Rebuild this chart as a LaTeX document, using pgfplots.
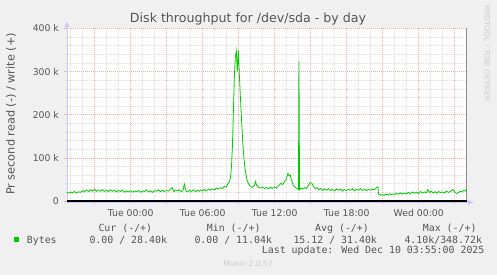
\documentclass[border=0pt]{standalone}
\usepackage{pgfplots}
\pgfplotsset{compat=1.18}
\usepackage{pgfplotstable}
\usepackage{fontspec}
\setmainfont{DejaVu Sans}
\newfontfamily\monofont{DejaVu Sans Mono}
\usetikzlibrary{arrows.meta}
\definecolor{bg}{RGB}{240,240,240}
\definecolor{txt}{RGB}{85,85,85}
\definecolor{majgrid}{RGB}{243,175,175}
\definecolor{mingrid}{RGB}{220,220,220}
\definecolor{axisblue}{RGB}{200,200,255}
\definecolor{lineg}{RGB}{0,204,0}
\definecolor{faint}{RGB}{204,204,204}
\pgfplotstableread{
x y
-5.31 20000
-5.15 18500
-5.0 21000
-4.85 19000
-4.7 22000
-4.5 18500
-4.35 21500
-4.2 20000
-4.0 24000
-3.85 21000
-3.7 25500
-3.5 22000
-3.35 26000
-3.2 23000
-3.0 27000
-2.85 22500
-2.7 25500
-2.5 23000
-2.35 26500
-2.2 22000
-2.0 25000
-1.85 21500
-1.7 26000
-1.5 22500
-1.35 25000
-1.2 21000
-1.0 24500
-0.85 22000
-0.7 25000
-0.5 20500
-0.35 23500
-0.2 21000
0.0 24000
0.15 20500
0.3 23000
0.5 21500
0.65 24500
0.8 20500
1.0 23000
1.15 22000
1.3 25500
1.5 21000
1.65 23500
1.8 20000
2.0 24000
2.15 22500
2.3 26000
2.5 21500
2.65 25000
2.8 22000
3.0 24500
3.15 23000
3.3 27000
3.45 31000
3.6 22000
3.75 25500
3.9 23500
4.05 26000
4.2 22000
4.35 24000
4.47 39000
4.6 23000
4.75 21000
4.9 25000
5.05 22000
5.2 26000
5.4 21500
5.55 24500
5.7 22500
5.85 26000
6.0 23500
6.15 27000
6.3 24000
6.5 27500
6.65 25000
6.8 28500
7.0 26000
7.15 30000
7.3 27500
7.5 31000
7.65 29000
7.8 34000
7.95 32000
8.1 40000
8.22 44000
8.32 55000
8.4 80000
8.48 130000
8.56 210000
8.64 290000
8.72 335000
8.8 348000
8.88 300000
8.97 348700
9.05 295000
9.15 235000
9.25 182000
9.35 130000
9.45 95000
9.55 70000
9.7 48000
9.85 38000
10.0 33000
10.15 32000
10.3 36000
10.4 45000
10.5 36000
10.65 32000
10.8 30000
11.0 31500
11.15 29000
11.3 31000
11.5 28500
11.65 32000
11.8 29000
12.0 33000
12.15 30000
12.3 34000
12.5 41000
12.65 38000
12.8 44000
12.95 50000
13.1 64000
13.2 58000
13.3 60000
13.4 49000
13.55 36000
13.7 32000
13.85 29000
13.98 27000
14.02 325000
14.07 26000
14.2 30000
14.35 28000
14.5 31000
14.65 29000
14.8 36000
14.95 43000
15.1 41000
15.25 33000
15.4 28000
15.55 31000
15.7 26000
15.85 29000
16.0 24500
16.15 28000
16.3 25000
16.5 28500
16.65 24000
16.8 27000
17.0 23500
17.15 28000
17.3 25000
17.5 27500
17.65 23000
17.8 26500
18.0 24000
18.15 27500
18.3 25000
18.5 28000
18.65 23500
18.8 27000
19.0 25000
19.15 28500
19.3 24500
19.5 27000
19.65 24000
19.8 26500
20.0 25000
20.15 28000
20.3 26000
20.45 30000
20.6 33000
20.65 16000
20.8 13500
20.95 15500
21.1 12500
21.25 16000
21.4 14000
21.55 17000
21.7 14500
21.85 16500
22.0 15000
22.15 18000
22.3 15500
22.5 19000
22.65 16000
22.8 18500
23.0 16500
23.15 20000
23.3 17000
23.5 21000
23.65 18000
23.8 20500
24.0 17500
24.15 22000
24.3 18500
24.5 21000
24.65 19000
24.75 26500
24.9 20000
25.05 22500
25.2 18500
25.35 21500
25.5 18000
25.65 22000
25.8 19500
26.0 21000
26.15 18500
26.3 23000
26.5 20000
26.65 22500
26.85 27000
27.0 21000
27.15 17500
27.3 19500
27.45 22500
27.6 21000
27.75 24500
27.9 23000
28.0 28400
}\writedata
\begin{document}
\begin{tikzpicture}[x=1pt,y=1pt]
\useasboundingbox (0,0) rectangle (497,275);
\fill[bg] (0,0) rectangle (497,275);
\begin{axis}[
  at={(67pt,74pt)}, anchor=south west,
  scale only axis, width=399.7pt, height=172.5pt,
  xmin=-5.31, xmax=28.0, ymin=0, ymax=400000,
  clip=false,
  axis background/.style={fill=white},
  axis line style={draw=none},
  xtick={-3,0,...,27},
  xticklabels={,Tue 00:00,,Tue 06:00,,Tue 12:00,,Tue 18:00,,Wed 00:00,},
  minor xtick={-5,-4,...,28},
  ytick={0,100000,200000,300000,400000},
  yticklabels={0\hspace{6pt},100 k,200 k,300 k,400 k},
  minor ytick={20000,40000,...,380000},
  scaled y ticks=false,
  grid=both,
  major grid style={majgrid, dash pattern=on 0.8pt off 1.2pt, line width=0.5pt},
  minor grid style={mingrid, dash pattern=on 0.8pt off 1.2pt, line width=0.5pt},
  tick align=outside, xtick pos=bottom, ytick pos=left,
  major tick length=3pt, minor tick length=2pt,
  major tick style={majgrid, line width=0.6pt},
  minor tick style={mingrid, line width=0.6pt},
  ticklabel style={font=\fontsize{9.3}{11}\selectfont, text=txt},
  yticklabel style={xshift=-1.6pt},
  xticklabel style={yshift=-1.6pt},
]
\draw[axisblue, line width=1pt, -{Triangle[length=6pt,width=5pt]}] (rel axis cs:0,0) -- ([yshift=7pt]rel axis cs:0,1);
\draw[axisblue, line width=1pt, -{Triangle[length=6pt,width=5pt]}] ([yshift=-1.2pt]rel axis cs:0,0) -- ([xshift=7pt,yshift=-1.2pt]rel axis cs:1,0);
\draw[black!45, line width=0.8pt] (rel axis cs:1,0) -- (rel axis cs:1,1);
\draw[black, line width=1.3pt] (rel axis cs:0,0) -- (rel axis cs:1,0);
\addplot[lineg, line width=0.8pt, mark=none] table[x=x,y=y] {\writedata};
\end{axis}
\node[txt, font=\fontsize{12.6}{14}\selectfont, anchor=base, inner sep=0pt] at (248,252) {Disk throughput for /dev/sda - by day};
\node[txt, font=\fontsize{11.3}{13}\selectfont, rotate=90, anchor=center, inner sep=0pt] at (11,161) {Pr second read (-) / write (+)};
\node[faint, font=\fontsize{7.5}{9}\selectfont, rotate=-90, anchor=center, inner sep=0pt] at (487,221.6) {RRDTOOL / TOBI OETIKER};
\fill[lineg] (14,33) rectangle (19.3,38.3);
\begin{scope}[every node/.style={txt, font=\monofont\fontsize{9.9}{11}\selectfont, anchor=base west, inner sep=0pt}]
\node at (98.3,43.5) {Cur (-/+)};
\node at (206.7,43.5) {Min (-/+)};
\node at (315,43.5) {Avg (-/+)};
\node at (422.7,43.5) {Max (-/+)};
\node at (26.7,31.8) {Bytes};
\node at (89.3,31.8) {0.00 / 28.40k};
\node at (194.3,31.8) {0.00 / 11.04k};
\node at (293.3,31.8) {15.12 / 31.40k};
\node at (404.3,31.8) {4.10k/348.72k};
\node at (261.7,21.1) {Last update: Wed Dec 10 03:55:00 2025};
\end{scope}
\node[faint, font=\fontsize{7.5}{9}\selectfont, anchor=base, inner sep=0pt] at (248,8.3) {Munin 2.0.57};
\end{tikzpicture}
\end{document}
